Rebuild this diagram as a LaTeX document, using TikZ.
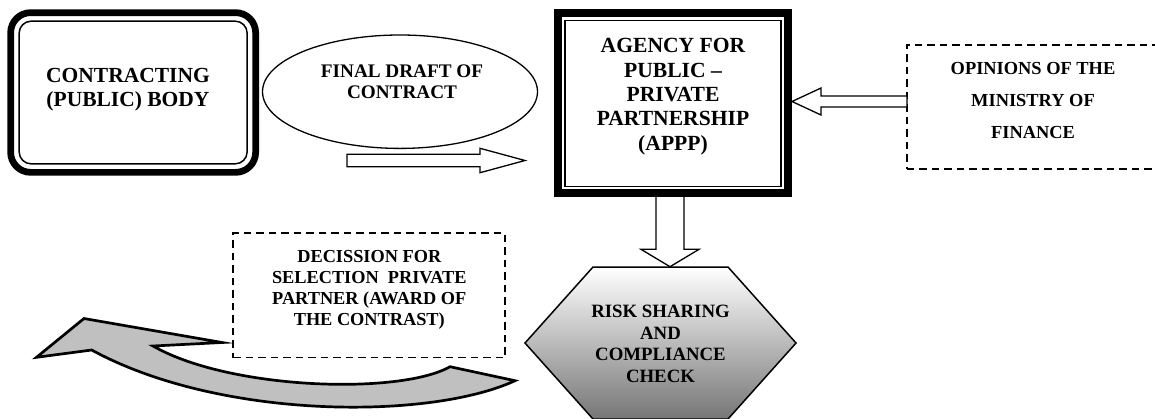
\documentclass[tikz,border=0pt]{standalone}
\usepackage{fontspec}
\setmainfont{Liberation Serif}
\usetikzlibrary{calc,shapes.geometric}
\definecolor{arrowgray}{RGB}{192,192,192}
\definecolor{hexmid}{RGB}{212,212,212}
\definecolor{hexbot}{RGB}{118,118,118}
\tikzset{
  txt/.style={align=center, inner sep=0pt},
  boxshape/.style={draw, inner sep=0pt, outer sep=0pt},
  dashbox/.style={boxshape, line width=1.7pt, dash pattern=on 7.5pt off 5pt},
  blockarrow/.style={draw, line width=1.3pt, fill=white, line join=miter},
  thinframe/.style={draw, line width=1.5pt},
}
\begin{document}
\begin{tikzpicture}[x=1pt,y=-1pt]
\useasboundingbox (0,0) rectangle (1155,418);
\clip (0,0) rectangle (1155,418);

% Contracting body
\node[boxshape, line width=6.7pt, rounded corners=20pt, minimum width=245pt, minimum height=159.7pt] (cpb) at (133.15,92.5) {};
\draw[thinframe, rounded corners=12pt] ($(cpb.north west)+(8.5,8.5)$) rectangle ($(cpb.south east)+(-8.5,-8.5)$);
\node[txt, font=\fontsize{21.5}{24.5}\selectfont\bfseries] (cpbtext) at (128,89.7) {CONTRACTING\\(PUBLIC) BODY};

% Final draft ellipse
\node[boxshape, ellipse, line width=1.3pt, minimum width=275pt, minimum height=113.4pt] (draft) at (400,91.7) {};
\node[txt, font=\fontsize{19.2}{21.7}\selectfont\bfseries] (drafttext) at (402,81.7) {FINAL DRAFT OF\\CONTRACT};

% small right arrow
\coordinate (ra1) at (347,160.5);
\coordinate (ra2) at (525,160.5);
\draw[blockarrow] ($(ra1)+(0,-6.2)$) -- ($(ra2)+(-45,-6.2)$) -- ($(ra2)+(-45,-12.2)$) -- (ra2)
  -- ($(ra2)+(-45,12.2)$) -- ($(ra2)+(-45,6.2)$) -- ($(ra1)+(0,6.2)$) -- cycle;

% down arrow (drawn before the APPP box)
\coordinate (da1) at (670,190);
\coordinate (da2) at (670,266.7);
\draw[blockarrow] ($(da1)+(-14,0)$) -- ($(da2)+(-14,-17.4)$) -- ($(da2)+(-29,-17.4)$) -- (da2)
  -- ($(da2)+(29,-17.4)$) -- ($(da2)+(14,-17.4)$) -- ($(da1)+(14,0)$) -- cycle;

% APPP box
\node[boxshape, line width=8pt, fill=white, minimum width=230pt, minimum height=180pt] (appp) at (673,103.3) {};
\draw[thinframe] ($(appp.north west)+(7,7)$) rectangle ($(appp.south east)+(-7,-7)$);
\node[txt, font=\fontsize{21.6}{24.3}\selectfont\bfseries] (apptext) at (673,96.7) {AGENCY FOR\\PUBLIC --\\PRIVATE\\PARTNERSHIP\\(APPP)};

% Opinions box
\node[dashbox, minimum width=258.3pt, minimum height=124pt] (opin) at (1035.85,107) {};
\node[txt, font=\fontsize{18.4}{32}\selectfont\bfseries] (opintext) at (1033,100.8) {OPINIONS OF THE\\MINISTRY OF\\FINANCE};

% left arrow from opinions to APPP
\coordinate (la1) at (907,101.5);
\coordinate (la2) at (792,101.5);
\draw[blockarrow] ($(la1)+(0,-5.5)$) -- ($(la2)+(29,-5.5)$) -- ($(la2)+(29,-13.5)$) -- (la2)
  -- ($(la2)+(29,13.5)$) -- ($(la2)+(29,5.5)$) -- ($(la1)+(0,5.5)$) -- cycle;

% Hexagon
\path[draw, line width=1.5pt, line join=miter, top color=white, middle color=hexmid, bottom color=hexbot]
  (593,267) -- (728,267) -- (796,343) -- (728,419) -- (593,419) -- (525,343) -- cycle;
\node[txt, font=\fontsize{18.8}{21.7}\selectfont\bfseries] (risk) at (660.5,343.9) {RISK SHARING\\AND\\COMPLIANCE\\CHECK};

% Decision box
\node[dashbox, minimum width=272pt, minimum height=124.2pt] (dec) at (369,295.4) {};
\node[txt, font=\fontsize{18.3}{20.9}\selectfont\bfseries] (dectext) at (369.3,290.2) {DECISSION FOR\\SELECTION\ \ PRIVATE\\PARTNER (AWARD OF\\THE CONTRAST)};

% Curved arrow
\path[draw=black, fill=arrowgray, line width=2.7pt, line join=miter]
  (36.5,357.3) -- (84,318.5) -- (222,342.5) -- (153,346)
  .. controls (230,390) and (400,395) .. (450,366.7) -- (515,380.7)
  .. controls (430,420) and (220,420) .. (91.7,350) -- cycle;
\end{tikzpicture}
\end{document}
